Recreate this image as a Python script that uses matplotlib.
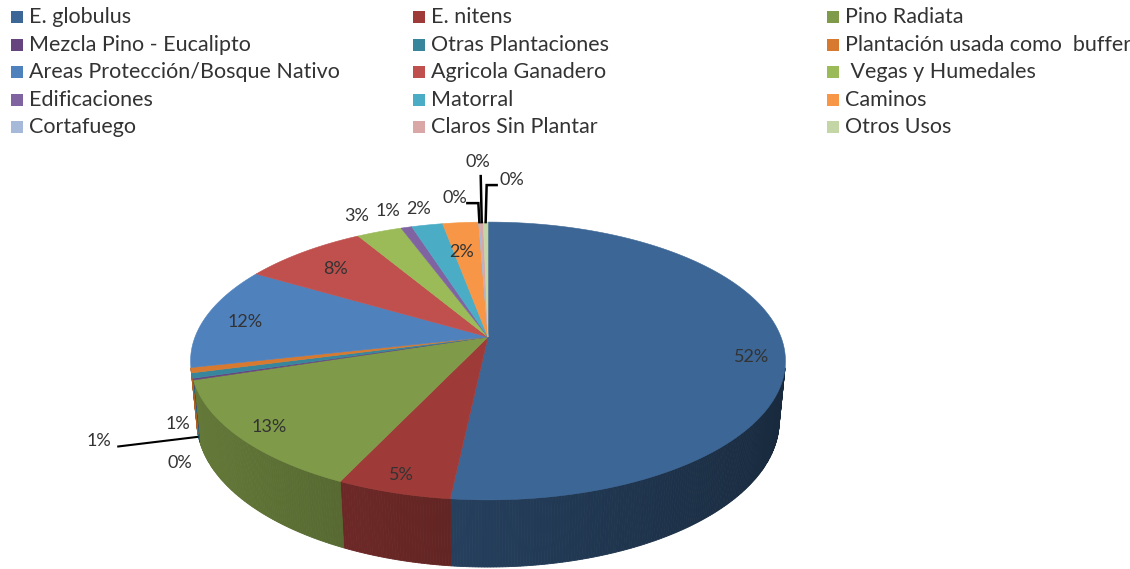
import numpy as np
import matplotlib
matplotlib.use("Agg")
import matplotlib.pyplot as plt
from matplotlib.patches import Polygon
import matplotlib.colors as mcolors

# ---------------- data ----------------
categories = [
    "E. globulus", "E. nitens", "Pino Radiata",
    "Mezcla Pino - Eucalipto", "Otras Plantaciones", "Plantación usada como  buffer",
    "Areas Protección/Bosque Nativo", "Agricola Ganadero", " Vegas y Humedales",
    "Edificaciones", "Matorral", "Caminos",
    "Cortafuego", "Claros Sin Plantar", "Otros Usos",
]
values = [51.7, 5.3, 13.1, 0.2, 0.6, 0.6, 12.0, 8.0, 2.9, 0.7, 2.0, 2.3, 0.1, 0.2, 0.3]
colors = [
    "#3C6696", "#9E3B38", "#7F9A48",
    "#66457F", "#37869B", "#D7792F",
    "#4F81BD", "#C0504D", "#9BBB59",
    "#8064A2", "#4BACC6", "#F79646",
    "#A7B9D9", "#D9A7A6", "#C5D6A6",
]

# ---------------- layout ----------------
W, H = 1130, 569
fig = plt.figure(figsize=(W / 100, H / 100), dpi=100)
ax = fig.add_axes([0, 0, 1, 1])
ax.set_xlim(0, W)
ax.set_ylim(H, 0)
ax.axis("off")

FONT = ["Lato", "DejaVu Sans"]
TXT = "#333333"

# perspective camera for the 3-D pie
f_len, D = 1507.0, 5.144
sphi = 0.46
cphi = np.sqrt(1 - sphi ** 2)
depth = 0.232
cx, cy = 488.0, 337.0


def proj(X, Y, Z):
    X, Y, Z = np.asarray(X, float), np.asarray(Y, float), np.asarray(Z, float)
    yc = Y * sphi + Z * cphi
    zc = D + Y * cphi - Z * sphi
    return cx + f_len * X / zc, cy - f_len * yc / zc


vals = np.array(values, float)
frac = vals / vals.sum()
bounds = np.concatenate([[0], np.cumsum(frac)]) * 2 * np.pi  # clockwise from far point

# visible range of the outer wall
tvis = np.arccos(-1.0 / (D * cphi))
t_lo, t_hi = tvis, 2 * np.pi - tvis


def shade(c, t):
    fct = np.clip(0.6 - 0.2 * np.sin(t), 0.3, 0.9)
    r, g, b = mcolors.to_rgb(c)
    return (r * fct, g * fct, b * fct)


# side walls
for i, c in enumerate(colors):
    a0, a1 = max(bounds[i], t_lo), min(bounds[i + 1], t_hi)
    if a1 <= a0:
        continue
    n = max(2, int(np.degrees(a1 - a0) / 0.5) + 1)
    ts = np.linspace(a0, a1, n)
    for ta, tb in zip(ts[:-1], ts[1:]):
        xs = np.array([np.sin(ta), np.sin(tb), np.sin(tb), np.sin(ta)])
        ys = np.array([np.cos(ta), np.cos(tb), np.cos(tb), np.cos(ta)])
        zs = np.array([0, 0, -depth, -depth])
        px, py = proj(xs, ys, zs)
        col = shade(c, 0.5 * (ta + tb))
        ax.add_patch(Polygon(np.column_stack([px, py]), closed=True,
                             facecolor=col, edgecolor=col, lw=0.6))

# top faces
for i, c in enumerate(colors):
    n = max(3, int(np.degrees(bounds[i + 1] - bounds[i]) / 0.5) + 2)
    ts = np.linspace(bounds[i], bounds[i + 1], n)
    xs = np.concatenate([[0], np.sin(ts)])
    ys = np.concatenate([[0], np.cos(ts)])
    px, py = proj(xs, ys, np.zeros_like(xs))
    ax.add_patch(Polygon(np.column_stack([px, py]), closed=True,
                         facecolor=c, edgecolor=c, lw=0.4))

# ---------------- data labels ----------------
pct = [f"{int(round(v))}%" for v in frac * 100]
# radius for label anchor, pixel offset of text, leader spec
lab_r = [0.88, 0.9, 0.9, 1.0, 1.0, 1.0, 0.85, 0.8, 1.15, 1.15, 1.15, 0.75, 1.0, 1.0, 1.0]
lab_off = [(4, 14), (-3, 1), (2, 1), (-13, 84), (-93, 65), (-13, 54), (-2, 3), (-2, 1),
           (-9, -2), (-8, -3), (-1, -2), (-5, 4), (-24, -24), (-4, -60), (26, -42)]
leaders = {
    4: "wall",
    12: [(0, 0), (-1, -19), (-12, -19)],
    13: [(0, 0), (-1, -46)],
    14: [(0, 0), (1, -37), (11, -37)],
}

for i in range(len(values)):
    tm = 0.5 * (bounds[i] + bounds[i + 1])
    r = lab_r[i]
    ax0, ay0 = proj(r * np.sin(tm), r * np.cos(tm), 0.0)
    ax0, ay0 = float(ax0), float(ay0)
    dx, dy = lab_off[i]
    tx, ty = ax0 + dx, ay0 + dy
    ax.text(tx, ty, pct[i], ha="center", va="center", fontsize=13,
            color=TXT, family=FONT, zorder=5)
    if i in leaders:
        spec = leaders[i]
        if spec == "wall":
            wx, wy = proj(np.sin(tm), np.cos(tm), -depth)
            ax.plot([tx + 18, float(wx)], [ty + 6, float(wy)], color="black",
                    lw=1.5, zorder=4, solid_capstyle="butt")
        else:
            pts = [(ax0 + ox, ay0 + oy) for ox, oy in spec]
            ax.plot([p[0] for p in pts], [p[1] for p in pts], color="black",
                    lw=1.8, zorder=4, solid_joinstyle="miter")

# ---------------- legend ----------------
leg_cols = [17, 419, 833]
leg_row0, leg_step = 17, 27.5
for i, (name, c) in enumerate(zip(categories, colors)):
    row, col = divmod(i, 3)
    x = leg_cols[col]
    y = leg_row0 + row * leg_step
    ax.scatter([x], [y], marker="s", s=85, color=c, linewidths=0, zorder=5)
    ax.text(x + 12, y, name, ha="left", va="center", fontsize=15.5,
            color=TXT, family=FONT)

fig.savefig("out.png", dpi=100)
